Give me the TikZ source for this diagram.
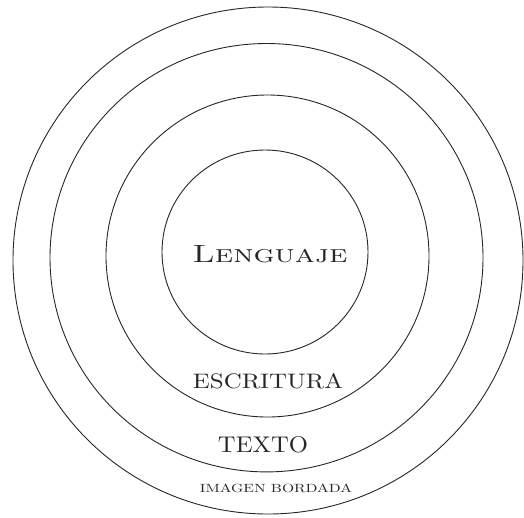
\documentclass[tikz,border=0pt]{standalone}
\usepackage{graphicx}
\tikzset{ring/.style={draw=black!85, line width=0.9pt},
  lbl/.style={anchor=base, inner sep=0pt, text=black!85}}
\begin{document}
\begin{tikzpicture}[x=1pt,y=-1pt]
\useasboundingbox (0,0) rectangle (524,517);
\draw[ring] (268,260.5) ellipse [x radius=255, y radius=253.5];
\draw[ring] (266.5,257.7) ellipse [x radius=216.5, y radius=214.2];
\draw[ring] (267.5,256) ellipse [x radius=161.5, y radius=161];
\draw[ring] (265,252) ellipse [x radius=103, y radius=102];
\node[lbl] (leng) at (270,262) {\resizebox{155pt}{17pt}{\textsc{Lenguaje}}};
\node[lbl] (escr) at (268,388) {\resizebox{150pt}{15pt}{ESCRITURA}};
\node[lbl] (text) at (263,452) {\resizebox{90pt}{16pt}{TEXTO}};
\node[lbl] (imag) at (276,492.5) {\resizebox{152pt}{8.5pt}{IMAGEN BORDADA}};
\end{tikzpicture}
\end{document}
